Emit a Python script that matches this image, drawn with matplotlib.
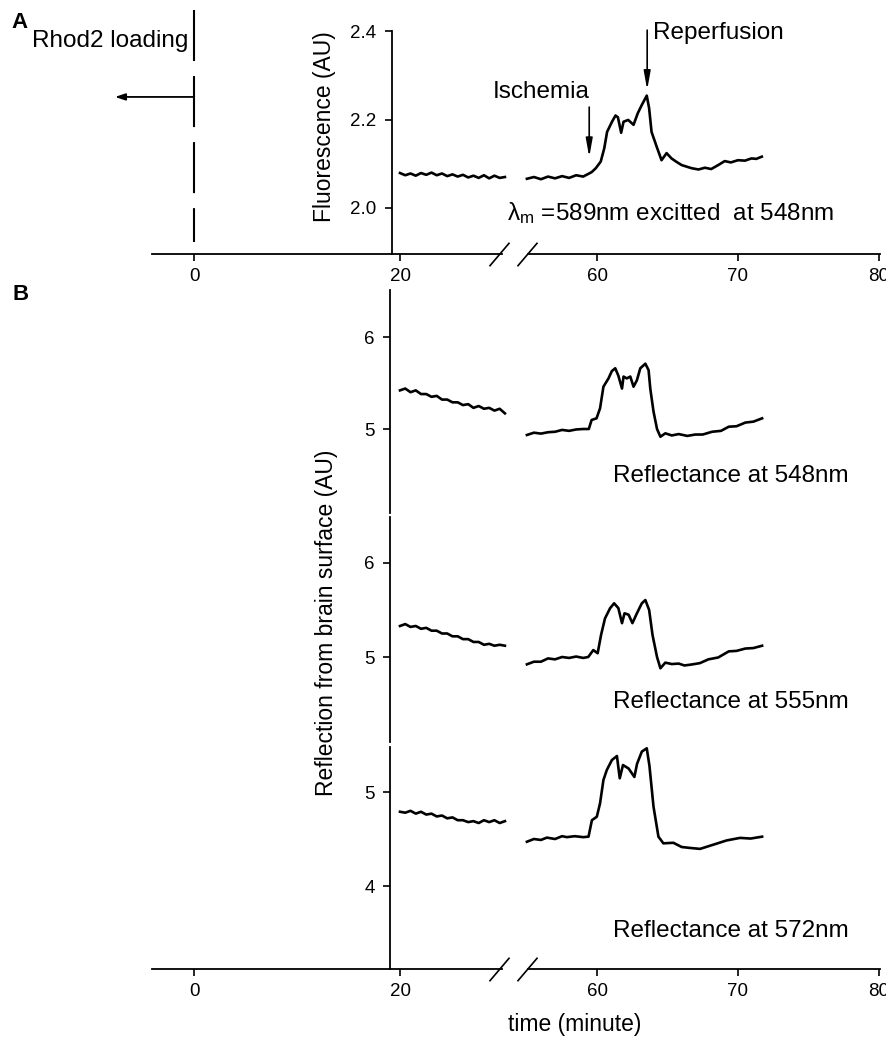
import numpy as np
import matplotlib
matplotlib.use('Agg')
import matplotlib.pyplot as plt

plt.rcParams['font.family'] = ['Liberation Sans', 'DejaVu Sans']
plt.rcParams['mathtext.fontset'] = 'custom'
plt.rcParams['mathtext.rm'] = 'Liberation Sans'
plt.rcParams['mathtext.it'] = 'Liberation Sans:italic'
plt.rcParams['mathtext.default'] = 'regular'

W, H = 886, 1041

# broken time axis: minutes -> position along the axis
knot_min = [-20, 0, 20, 30, 55, 80, 100]
knot_pos = [-12, 194, 400, 505, 527, 879, 1160.6]

# first recording segment (before the break), shared by all traces
t_pre = [20.0, 20.5, 21.0, 21.5, 22.0, 22.5, 23.0, 23.5, 24.0, 24.5, 25.0,
         25.5, 26.0, 26.5, 27.0, 27.5, 28.0, 28.5, 29.0, 29.5, 30.0]

# A: Rhod2 fluorescence
fluo_pre = [2.079, 2.074, 2.078, 2.073, 2.079, 2.075, 2.080, 2.074, 2.078, 2.072, 2.076,
            2.071, 2.075, 2.069, 2.073, 2.068, 2.074, 2.067, 2.073, 2.068, 2.070]
t_fluo = [55.0, 55.5, 56.0, 56.5, 57.0, 57.5, 58.0, 58.5, 59.0, 59.3, 59.6, 59.9,
          60.25, 60.5, 60.7, 61.05, 61.3, 61.47, 61.7, 61.87, 62.2, 62.58, 62.88,
          63.17, 63.52, 63.69, 63.86, 64.22, 64.57, 64.93, 65.28, 65.6, 66.0, 66.4,
          66.7, 67.2, 67.65, 68.1, 68.6, 69.06, 69.5, 70.0, 70.5, 70.96, 71.3, 71.7]
fluo = [2.066, 2.070, 2.065, 2.071, 2.067, 2.072, 2.068, 2.074, 2.071, 2.076, 2.081, 2.090,
        2.105, 2.135, 2.172, 2.195, 2.209, 2.205, 2.170, 2.195, 2.199, 2.188, 2.214,
        2.233, 2.254, 2.225, 2.172, 2.139, 2.108, 2.124, 2.112, 2.105, 2.097, 2.093,
        2.090, 2.087, 2.091, 2.088, 2.097, 2.106, 2.103, 2.108, 2.107, 2.112, 2.111, 2.116]

# B: reflectance at 548 nm
r548_pre = [5.42, 5.44, 5.40, 5.42, 5.38, 5.38, 5.35, 5.36, 5.32, 5.32, 5.29,
            5.29, 5.26, 5.27, 5.23, 5.25, 5.22, 5.23, 5.20, 5.22, 5.17]
t_548 = [55.0, 55.5, 56.0, 56.5, 57.0, 57.5, 58.0, 58.5, 59.0, 59.4, 59.6, 59.95,
         60.2, 60.44, 60.8, 61.04, 61.28, 61.5, 61.76, 61.87, 62.1, 62.35, 62.58, 62.82,
         63.06, 63.42, 63.65, 63.77, 64.0, 64.25, 64.49, 64.84, 65.3, 65.79, 66.4, 66.97,
         67.5, 68.16, 68.8, 69.35, 69.9, 70.53, 71.1, 71.72]
r548 = [4.935, 4.96, 4.95, 4.965, 4.97, 4.99, 4.98, 4.995, 5.00, 5.00, 5.098, 5.116,
        5.225, 5.46, 5.55, 5.63, 5.66, 5.58, 5.44, 5.57, 5.55, 5.57, 5.46, 5.53,
        5.66, 5.71, 5.64, 5.44, 5.19, 5.00, 4.916, 4.953, 4.93, 4.945, 4.925, 4.94,
        4.94, 4.970, 4.98, 5.025, 5.03, 5.07, 5.08, 5.116]

# B: reflectance at 555 nm
r555_pre = [5.33, 5.35, 5.32, 5.33, 5.30, 5.31, 5.28, 5.28, 5.25, 5.25, 5.22,
            5.22, 5.19, 5.19, 5.16, 5.16, 5.13, 5.14, 5.12, 5.13, 5.12]
t_555 = [55.0, 55.5, 56.0, 56.5, 57.0, 57.5, 58.0, 58.5, 59.0, 59.36, 59.72, 60.03,
         60.27, 60.55, 60.91, 61.2, 61.5, 61.76, 61.94, 62.23, 62.5, 62.82, 63.17,
         63.42, 63.69, 63.93, 64.25, 64.49, 64.84, 65.3, 65.79, 66.2, 66.7, 67.3,
         67.9, 68.6, 69.35, 69.9, 70.53, 71.1, 71.72]
r555 = [4.922, 4.95, 4.95, 4.985, 4.975, 5.0, 4.99, 5.005, 4.99, 5.0, 5.074, 5.04,
        5.234, 5.41, 5.518, 5.571, 5.52, 5.36, 5.465, 5.45, 5.36, 5.465, 5.571,
        5.606, 5.50, 5.234, 5.0, 4.88, 4.94, 4.925, 4.93, 4.91, 4.92, 4.935,
        4.975, 4.995, 5.06, 5.065, 5.09, 5.095, 5.12]

# B: reflectance at 572 nm
r572_pre = [4.79, 4.78, 4.80, 4.77, 4.79, 4.76, 4.77, 4.74, 4.75, 4.72, 4.73,
            4.70, 4.70, 4.68, 4.69, 4.67, 4.70, 4.68, 4.70, 4.67, 4.69]
t_572 = [55.0, 55.5, 56.0, 56.42, 57.0, 57.5, 57.84, 58.4, 59.0, 59.38, 59.62, 59.97,
         60.2, 60.44, 60.68, 61.04, 61.4, 61.6, 61.83, 62.23, 62.64, 62.83, 63.17,
         63.52, 63.71, 64.0, 64.35, 64.7, 65.41, 66.0, 66.6, 67.31, 68.26, 69.2,
         70.15, 70.9, 71.72]
r572 = [4.471, 4.50, 4.49, 4.515, 4.50, 4.53, 4.52, 4.53, 4.52, 4.525, 4.70, 4.737,
        4.88, 5.128, 5.234, 5.34, 5.383, 5.146, 5.287, 5.25, 5.16, 5.30, 5.43,
        5.465, 5.28, 4.844, 4.525, 4.454, 4.46, 4.415, 4.405, 4.395, 4.44, 4.485,
        4.512, 4.505, 4.525]

xticks = [0, 20, 60, 70, 80]
rhod2_t = 0
ischemia_t = 59.43
reperfusion_t = 63.55


def fwd(x):
    return np.interp(x, knot_min, knot_pos)


def inv(p):
    return np.interp(p, knot_pos, knot_min)


fig = plt.figure(figsize=(W / 100, H / 100), dpi=100)


def add_panel(left, top, width, height):
    return fig.add_axes([left / W, 1 - (top + height) / H, width / W, height / H])


def style(ax, spine_x, ylim, yticks, ylabels, bottom):
    ax.set_xscale('function', functions=(fwd, inv))
    ax.set_xlim(-4.1, 80.1)
    ax.set_ylim(*ylim)
    ax.patch.set_visible(False)
    for s in ['top', 'right', 'bottom']:
        ax.spines[s].set_visible(False)
    ax.spines['left'].set_position(('data', spine_x))
    ax.spines['left'].set_linewidth(1.3)
    ax.set_yticks(yticks)
    ax.set_yticklabels(ylabels)
    ax.tick_params(axis='y', direction='out', length=5, width=1.2,
                   labelsize=13.5, pad=6)
    ax.minorticks_off()
    if bottom:
        ax.set_xticks(xticks)
        ax.set_xticklabels([str(v) for v in xticks])
        ax.tick_params(axis='x', direction='out', length=5, width=1.2,
                       labelsize=13.5, pad=5)
        tr = ax.get_xaxis_transform()
        ax.plot([-4.1, 29.7], [0, 0], color='k', lw=1.3, transform=tr, clip_on=False)
        ax.plot([55.1, 80.1], [0, 0], color='k', lw=1.3, transform=tr, clip_on=False)
        for bx in [29.4, 55.0]:
            ax.plot([bx], [0], transform=tr, clip_on=False, color='k',
                    marker=[(-0.85, -1), (0.85, 1)], markersize=17,
                    markerfacecolor='none', markeredgewidth=1.2)
    else:
        ax.set_xticks([])
        ax.tick_params(axis='x', length=0)


line_kw = dict(color='k', lw=1.9)
txt = 17.5

# ---- panel A ----
axA = add_panel(152, 10, 728, 244)
style(axA, 19.2, (1.896, 2.4475), [2.0, 2.2, 2.4], ['2.0', '2.2', '2.4'], True)
axA.spines['left'].set_bounds(1.896, 2.4)
axA.plot(t_pre, fluo_pre, **line_kw)
axA.plot(t_fluo, fluo, **line_kw)
axA.plot([rhod2_t, rhod2_t], [2.4475, 1.923], color='k', lw=1.5,
         dashes=(24.5, 7.2), clip_on=False)
axA.annotate('', xy=(-7.7, 2.251), xytext=(rhod2_t, 2.251), annotation_clip=False,
             arrowprops=dict(arrowstyle='-|>,head_length=0.6,head_width=0.2',
                             mutation_scale=10, lw=1.3, color='k',
                             shrinkA=0, shrinkB=0))
arrow_kw = dict(arrowstyle='-|>,head_length=1.0,head_width=0.18', mutation_scale=11,
                lw=1.2, color='k', shrinkA=0, shrinkB=0)
axA.annotate('', xy=(ischemia_t, 2.115), xytext=(ischemia_t, 2.228),
             arrowprops=arrow_kw)
axA.annotate('', xy=(reperfusion_t, 2.267), xytext=(reperfusion_t, 2.402),
             arrowprops=arrow_kw, annotation_clip=False)
axA.text(0.0495, 0.848, 'Rhod2 loading', transform=axA.transAxes,
         ha='right', va='baseline', fontsize=txt)
axA.text(0.5343, 0.639, 'Ischemia', transform=axA.transAxes,
         ha='center', va='baseline', fontsize=txt)
axA.text(0.6882, 0.881, 'Reperfusion', transform=axA.transAxes,
         ha='left', va='baseline', fontsize=txt)
axA.text(0.4876, 0.139, r'$\lambda_{m}$ =589nm excitted  at 548nm',
         transform=axA.transAxes, ha='left', va='baseline', fontsize=txt)
fig.text(324 / W, 1 - 127 / H, 'Fluorescence (AU)', rotation=90,
         ha='center', va='center', fontsize=16.5)
fig.text(11 / W, 1 - 28 / H, 'A', fontsize=16, weight='bold', va='baseline')

# ---- panel B ----
ax1 = add_panel(152, 290, 728, 223)
style(ax1, 19.05, (4.087, 6.511), [5, 6], ['5', '6'], False)
ax1.plot(t_pre, r548_pre, **line_kw)
ax1.plot(t_548, r548, **line_kw)
ax1.text(0.6332, 0.139, 'Reflectance at 548nm', transform=ax1.transAxes,
         ha='left', va='baseline', fontsize=txt)

ax2 = add_panel(152, 517, 728, 225)
style(ax2, 19.05, (4.096, 6.489), [5, 6], ['5', '6'], False)
ax2.plot(t_pre, r555_pre, **line_kw)
ax2.plot(t_555, r555, **line_kw)
ax2.text(0.6332, 0.151, 'Reflectance at 555nm', transform=ax2.transAxes,
         ha='left', va='baseline', fontsize=txt)

ax3 = add_panel(152, 747, 728, 222)
style(ax3, 19.05, (3.117, 5.479), [4, 5], ['4', '5'], True)
ax3.plot(t_pre, r572_pre, **line_kw)
ax3.plot(t_572, r572, **line_kw)
ax3.text(0.6332, 0.144, 'Reflectance at 572nm', transform=ax3.transAxes,
         ha='left', va='baseline', fontsize=txt)

fig.text(327 / W, 1 - 623 / H, 'Reflection from brain surface (AU)', rotation=90,
         ha='center', va='center', fontsize=16.5)
fig.text(575 / W, 1 - 1025 / H, 'time (minute)', ha='center', va='center',
         fontsize=16.5)
fig.text(12 / W, 1 - 300 / H, 'B', fontsize=16, weight='bold', va='baseline')

fig.savefig('out.png', dpi=100)
